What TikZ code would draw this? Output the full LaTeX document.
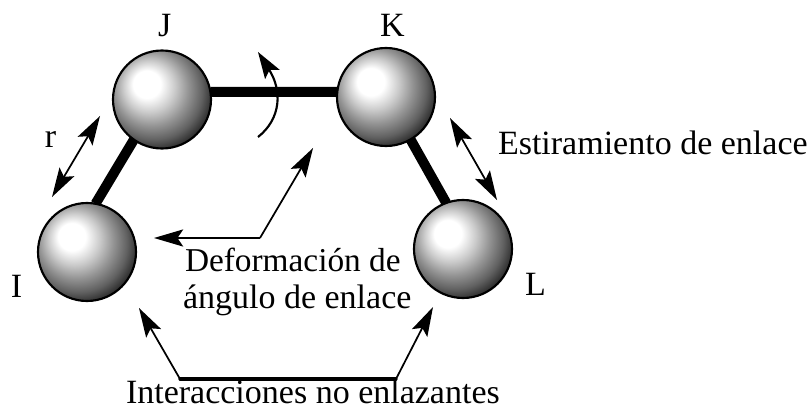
\documentclass[tikz,border=0pt]{standalone}
\usepackage{fontspec}
\setmainfont{Liberation Serif}
\usetikzlibrary{calc}
\pgfdeclareradialshading{ballshade}{\pgfpoint{-9bp}{9bp}}{
  color(0bp)=(white); color(7bp)=(white); color(13bp)=(black!20);
  color(19bp)=(black!42); color(25bp)=(black!62); color(30bp)=(black!84); color(33bp)=(black!96); color(36bp)=(black); color(50bp)=(black)}
\tikzset{
  x=0.75pt,y=-0.75pt,
  ballbase/.style={circle,minimum size=73.5pt,inner sep=0pt,outer sep=0pt},
  ball/.style={ballbase,draw=black,line width=1.6pt,shading=ballshade},
  bond/.style={line width=7.5pt,black},
  lbl/.style={anchor=base west,inner sep=0pt,outer sep=0pt,font=\fontsize{25.5}{30}\selectfont},
  wire/.style={line width=1.3pt,draw=black}
}
% filled concave arrow head: tip, point on the axis behind it, length
\newcommand{\headat}[3]{%
  \path ($(#1)!#3!(#2)$) coordinate (hb) ($(#1)!0.8*#3!(#2)$) coordinate (hn);
  \fill[black] (#1) -- ($(hb)!6.5pt!90:(#1)$) -- (hn) -- ($(hb)!6.5pt!-90:(#1)$) -- cycle;}
\begin{document}
\begin{tikzpicture}
\useasboundingbox (0,0) rectangle (811,410);
\path (162,99.5) coordinate (Jc) (386,97) coordinate (Kc) (87,252) coordinate (Ic) (463,249) coordinate (Lc);
\node[ballbase] (J0) at (Jc) {};
\node[ballbase] (K0) at (Kc) {};
\node[ballbase] (I0) at (Ic) {};
\node[ballbase] (L0) at (Lc) {};
\draw[bond] (J0.9) -- (K0.174);
\draw[bond] (I0.80) -- (J0.235);
\draw[bond] (K0.300) -- (L0.110);
\node[ball] (J) at (Jc) {};
\node[ball] (K) at (Kc) {};
\node[ball] (I) at (Ic) {};
\node[ball] (L) at (Lc) {};
% labels
\node[lbl] (tJ) at (158,37) {J};
\node[lbl] (tK) at (380,37) {K};
\node[lbl] (tr) at (45,147) {r};
\node[lbl] (tI) at (11,297) {I};
\node[lbl] (tL) at (525,295) {L};
\node[lbl] (tE) at (498,155) {Estiramiento de enlace};
\node[lbl,font=\fontsize{25}{30}\selectfont] (tD1) at (185,271) {Deformación de};
\node[lbl] (tD2) at (183,308) {ángulo de enlace};
\node[lbl] (tN) at (126,403) {Interacciones no enlazantes};
% arrow ends
\coordinate (r1) at (100,116);
\coordinate (r2) at (52,197);
\coordinate (s1) at (450,118);
\coordinate (s2) at (497,200);
\coordinate (c1) at (258,137);
\coordinate (c2) at (258,52);
\coordinate (c3) at (270.5,71.5);
\coordinate (c4) at (268,68);
\coordinate (d0) at (260,238);
\coordinate (d1) at (154,238);
\coordinate (d2) at (313,148);
\coordinate (n1) at (180,379);
\coordinate (n2) at (396,379);
\coordinate (n3) at (139,308);
\coordinate (n4) at (433,307);
\draw[wire,shorten <=15pt,shorten >=15pt] (r1) -- (r2);
\headat{r1}{r2}{22pt}\headat{r2}{r1}{22pt}
\draw[wire,shorten <=15pt,shorten >=15pt] (s1) -- (s2);
\headat{s1}{s2}{22pt}\headat{s2}{s1}{22pt}
\draw[wire,line width=1.6pt] (c1) .. controls (281,119) and (283,90) .. (c4);
\headat{c2}{c3}{20pt}
\draw[wire,shorten >=15pt] (d0) -- (d1);
\headat{d1}{d0}{22pt}
\draw[wire,shorten >=15pt] (d0) -- (d2);
\headat{d2}{d0}{22pt}
\draw[line width=2.4pt,line cap=round] (n1) -- (n2);
\draw[wire,shorten >=15pt] (n1) -- (n3);
\headat{n3}{n1}{22pt}
\draw[wire,shorten >=15pt] (n2) -- (n4);
\headat{n4}{n2}{22pt}
\end{tikzpicture}
\end{document}
